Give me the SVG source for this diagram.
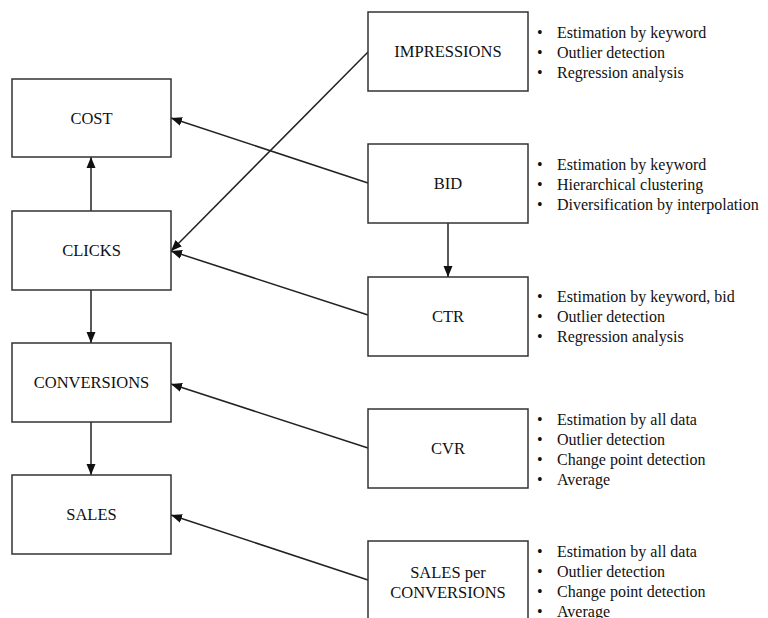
<svg xmlns="http://www.w3.org/2000/svg" width="768" height="618" viewBox="0 0 768 618">
<style>
.box{fill:#fff;stroke:#333;stroke-width:1.5}
.lbl{font-family:'Liberation Serif','Times New Roman','DejaVu Serif',serif;font-size:16.5px;fill:#111;text-anchor:middle}
.lst{font-family:'Liberation Serif','Times New Roman','DejaVu Serif',serif;font-size:16px;fill:#111}
.edge{stroke:#222;stroke-width:1.5;fill:none;marker-end:url(#ah)}
</style>
<defs>
<marker id="ah" viewBox="0 0 11 10" refX="11" refY="5" markerWidth="11" markerHeight="10" markerUnits="userSpaceOnUse" orient="auto">
<path d="M0,0.5 L11,5 L0,9.5 Z" fill="#111"/>
</marker>
</defs>
<rect width="768" height="618" fill="#fff"/>
<g id="connectors">
<line class="edge" x1="368" y1="52" x2="171" y2="251"/>
<line class="edge" x1="368" y1="183" x2="171" y2="118"/>
<line class="edge" x1="368" y1="315" x2="171" y2="251"/>
<line class="edge" x1="368" y1="448" x2="171" y2="384"/>
<line class="edge" x1="368" y1="580" x2="171" y2="515"/>
<line class="edge" x1="91" y1="211" x2="91" y2="157"/>
<line class="edge" x1="91" y1="290" x2="91" y2="343"/>
<line class="edge" x1="91" y1="422" x2="91" y2="475"/>
<line class="edge" x1="448" y1="223" x2="448" y2="277"/>
</g>
<g id="cost"><rect class="box" x="12" y="79" width="159" height="78"/><text class="lbl" x="91.5" y="124" font-family="Liberation Serif, serif">COST</text></g>
<g id="clicks"><rect class="box" x="12" y="211" width="159" height="79"/><text class="lbl" x="91.5" y="256" font-family="Liberation Serif, serif">CLICKS</text></g>
<g id="conversions"><rect class="box" x="12" y="343" width="159" height="79"/><text class="lbl" x="91.5" y="388" font-family="Liberation Serif, serif">CONVERSIONS</text></g>
<g id="sales"><rect class="box" x="12" y="475" width="159" height="79"/><text class="lbl" x="91.5" y="520" font-family="Liberation Serif, serif">SALES</text></g>
<g id="impressions"><rect class="box" x="368" y="12" width="160" height="79"/><text class="lbl" x="448" y="57" font-family="Liberation Serif, serif">IMPRESSIONS</text>
<text class="lst" font-family="Liberation Serif, serif"><tspan x="537" y="38">•</tspan><tspan x="557" y="38">Estimation by keyword</tspan><tspan x="537" y="58">•</tspan><tspan x="557" y="58">Outlier detection</tspan><tspan x="537" y="78">•</tspan><tspan x="557" y="78">Regression analysis</tspan></text></g>
<g id="bid"><rect class="box" x="368" y="144" width="160" height="79"/><text class="lbl" x="448" y="189" font-family="Liberation Serif, serif">BID</text>
<text class="lst" font-family="Liberation Serif, serif"><tspan x="537" y="170">•</tspan><tspan x="557" y="170">Estimation by keyword</tspan><tspan x="537" y="190">•</tspan><tspan x="557" y="190">Hierarchical clustering</tspan><tspan x="537" y="210">•</tspan><tspan x="557" y="210">Diversification by interpolation</tspan></text></g>
<g id="ctr"><rect class="box" x="368" y="277" width="160" height="79"/><text class="lbl" x="448" y="322" font-family="Liberation Serif, serif">CTR</text>
<text class="lst" font-family="Liberation Serif, serif"><tspan x="537" y="302">•</tspan><tspan x="557" y="302">Estimation by keyword, bid</tspan><tspan x="537" y="322">•</tspan><tspan x="557" y="322">Outlier detection</tspan><tspan x="537" y="342">•</tspan><tspan x="557" y="342">Regression analysis</tspan></text></g>
<g id="cvr"><rect class="box" x="368" y="409" width="160" height="79"/><text class="lbl" x="448" y="454" font-family="Liberation Serif, serif">CVR</text>
<text class="lst" font-family="Liberation Serif, serif"><tspan x="537" y="425">•</tspan><tspan x="557" y="425">Estimation by all data</tspan><tspan x="537" y="445">•</tspan><tspan x="557" y="445">Outlier detection</tspan><tspan x="537" y="465">•</tspan><tspan x="557" y="465">Change point detection</tspan><tspan x="537" y="485">•</tspan><tspan x="557" y="485">Average</tspan></text></g>
<g id="sales-per-conversions"><rect class="box" x="368" y="541" width="160" height="85"/><text class="lbl" x="448" y="578" font-family="Liberation Serif, serif">SALES per</text><text class="lbl" x="448" y="598" font-family="Liberation Serif, serif">CONVERSIONS</text>
<text class="lst" font-family="Liberation Serif, serif"><tspan x="537" y="557">•</tspan><tspan x="557" y="557">Estimation by all data</tspan><tspan x="537" y="577">•</tspan><tspan x="557" y="577">Outlier detection</tspan><tspan x="537" y="597">•</tspan><tspan x="557" y="597">Change point detection</tspan><tspan x="537" y="617">•</tspan><tspan x="557" y="617">Average</tspan></text></g>
</svg>
